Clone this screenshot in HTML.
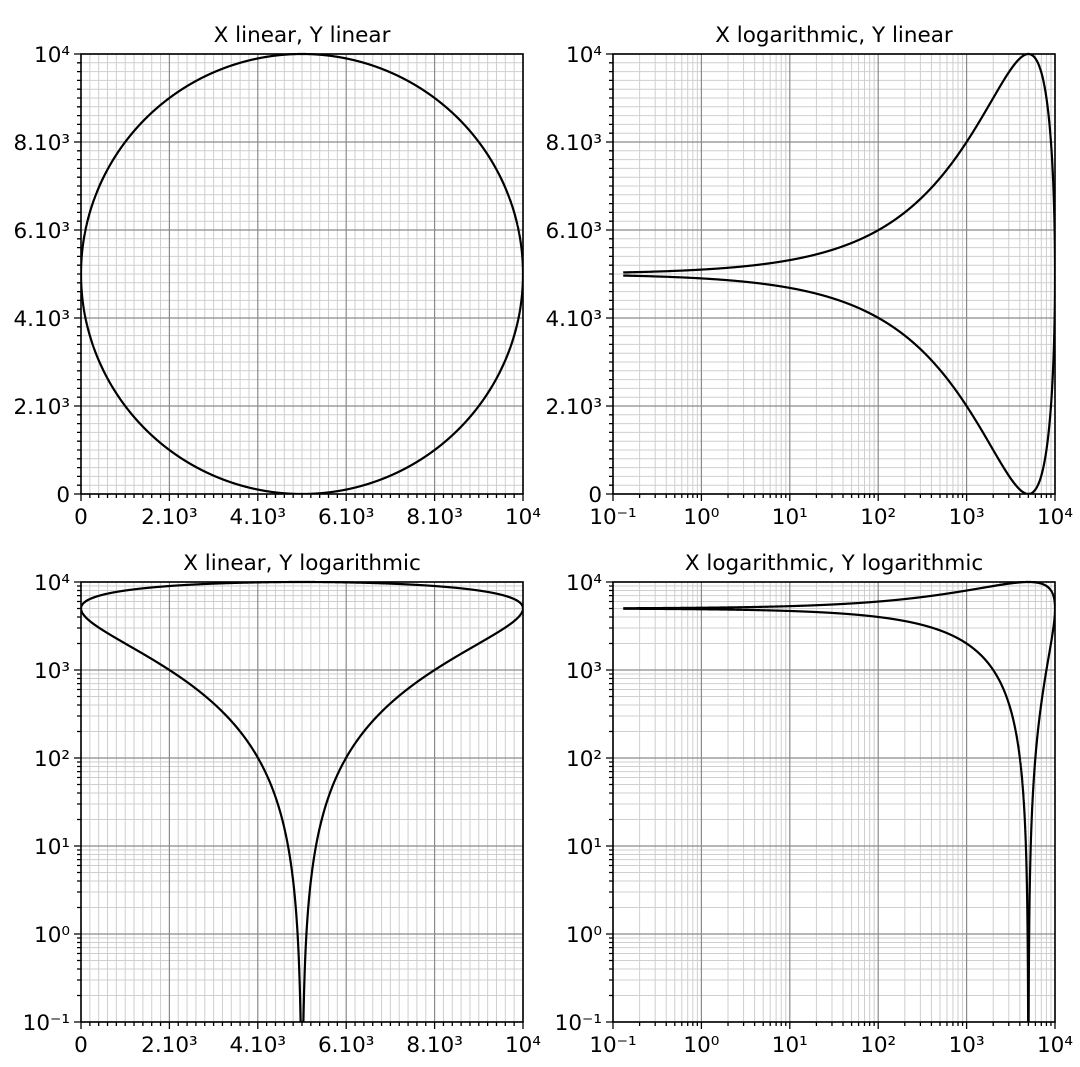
<!DOCTYPE html>
<html><head><meta charset="utf-8"><style>
html,body{margin:0;padding:0;background:#fff;}
svg{display:block;}
text{font-family:"DejaVu Sans","Liberation Sans",sans-serif;font-size:21.5px;fill:#000;}
</style></head><body>
<svg id="s" width="1080" height="1067" xmlns="http://www.w3.org/2000/svg"></svg>
<script>
const S=document.getElementById('s');let out='';
const sup={'0':'⁰','1':'¹','2':'²','3':'³','4':'⁴','-':'⁻'};
function pw(e){return '10'+String(e).split('').map(c=>sup[c]).join('');}
const linLabels=['0','2.10³','4.10³','6.10³','8.10³','10⁴'];
function panel(x0,y0,w,h,xlog,ylog,title){
  const x1=x0+w,y1=y0+h;
  const fx=v=>xlog?x0+(Math.log10(v)+1)/5*w:x0+v/10000*w;
  const fy=v=>ylog?y1-(Math.log10(v)+1)/5*h:y1-v/10000*h;
  let minor='',major='',ticks='',labs='';
  if(xlog){for(let e=-1;e<4;e++)for(let m=2;m<10;m++){const p=fx(m*10**e);minor+=`M${p},${y0}V${y1}`;ticks+=`M${p},${y1}v4`;}
    for(let e=-1;e<=4;e++){const p=fx(10**e);major+=`M${p},${y0}V${y1}`;ticks+=`M${p},${y1}v7`;labs+=`<text x="${p}" y="${y1+30}" text-anchor="middle">${pw(e)}</text>`;}}
  else{for(let i=0;i<=50;i++){const p=x0+i/50*w;if(i%10){minor+=`M${p},${y0}V${y1}`;ticks+=`M${p},${y1}v4`;}}
    for(let i=0;i<=5;i++){const p=x0+i/5*w;major+=`M${p},${y0}V${y1}`;ticks+=`M${p},${y1}v7`;labs+=`<text x="${p}" y="${y1+30}" text-anchor="middle">${linLabels[i]}</text>`;}}
  if(ylog){for(let e=-1;e<4;e++)for(let m=2;m<10;m++){const p=fy(m*10**e);minor+=`M${x0},${p}H${x1}`;ticks+=`M${x0},${p}h-4`;}
    for(let e=-1;e<=4;e++){const p=fy(10**e);major+=`M${x0},${p}H${x1}`;ticks+=`M${x0},${p}h-7`;labs+=`<text x="${x0-11}" y="${p+8}" text-anchor="end">${pw(e)}</text>`;}}
  else{for(let i=0;i<=50;i++){const p=y1-i/50*h;if(i%10){minor+=`M${x0},${p}H${x1}`;ticks+=`M${x0},${p}h-4`;}}
    for(let i=0;i<=5;i++){const p=y1-i/5*h;major+=`M${x0},${p}H${x1}`;ticks+=`M${x0},${p}h-7`;labs+=`<text x="${x0-11}" y="${p+8}" text-anchor="end">${linLabels[i]}</text>`;}}
  out+=`<path d="${minor}" stroke="#cfcfcf" stroke-width="1" fill="none"/>`;
  out+=`<path d="${major}" stroke="#8a8a8a" stroke-width="1.2" fill="none"/>`;
  let d='',pen=false;const N=20000;
  for(let i=0;i<=N;i++){const t=Math.PI+2*Math.PI*i/N;let x=5000+5000*Math.cos(t),y=5000+5000*Math.sin(t);
    if(xlog&&x<0.12){pen=false;continue;} if(ylog&&y<0.1){y=0.1;}
    const px=fx(Math.max(x,0.0001)),py=fy(Math.max(y,0.0001));
    d+=(pen?'L':'M')+px.toFixed(2)+','+py.toFixed(2);pen=true;}
  out+=`<clipPath id="c${x0}${y0}"><rect x="${x0}" y="${y0-2}" width="${w}" height="${h+2}"/></clipPath>`;
  out+=`<path d="${d}" stroke="#000" stroke-width="2.2" fill="none" stroke-linejoin="round" clip-path="url(#c${x0}${y0})"/>`;
  out+=`<path d="${ticks}" stroke="#000" stroke-width="1.3" fill="none"/>`;
  out+=`<rect x="${x0}" y="${y0}" width="${w}" height="${h}" fill="none" stroke="#000" stroke-width="1.6"/>`;
  out+=labs+`<text x="${x0+w/2}" y="${y0-12}" text-anchor="middle">${title}</text>`;
}
panel(81,54,442,440,false,false,'X linear, Y linear');
panel(613,54,442,440,true,false,'X logarithmic, Y linear');
panel(81,582,442,440,false,true,'X linear, Y logarithmic');
panel(613,582,442,440,true,true,'X logarithmic, Y logarithmic');
S.innerHTML=out;
</script>
</body></html>
